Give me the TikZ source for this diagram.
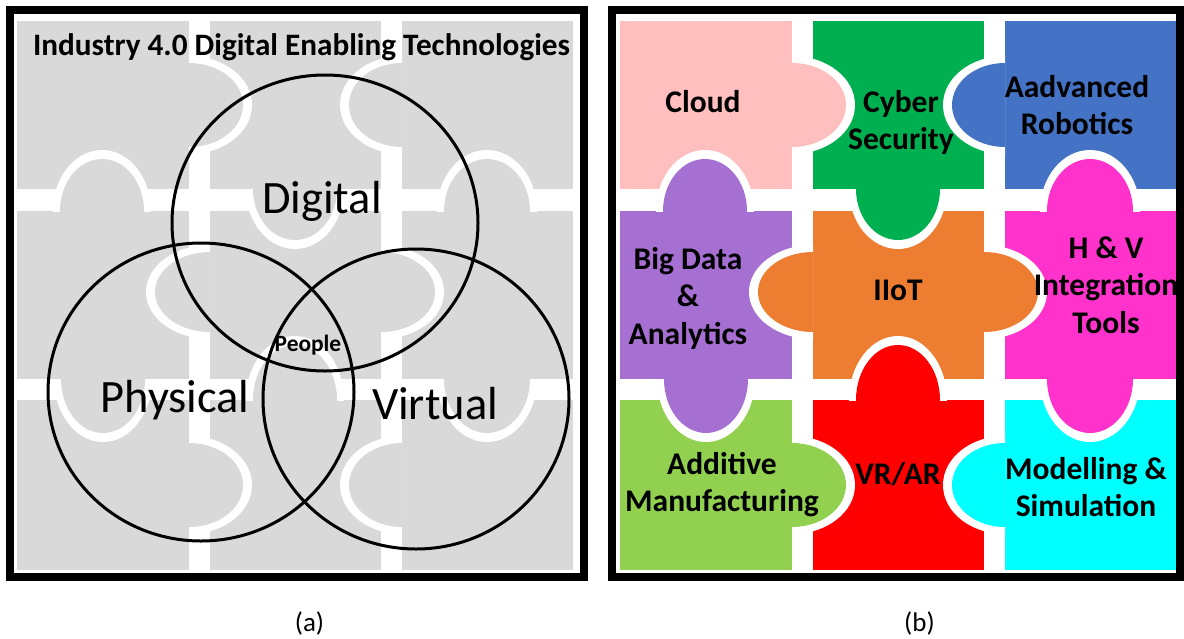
\documentclass[tikz,border=0pt]{standalone}
\usepackage{fontspec}
\setmainfont{Carlito}
\definecolor{cPink}{HTML}{FFBFBF}
\definecolor{cGreen}{HTML}{00B050}
\definecolor{cBlue}{HTML}{4472C4}
\definecolor{cPurple}{HTML}{A66FD2}
\definecolor{cOrange}{HTML}{ED7D31}
\definecolor{cMagenta}{HTML}{FF33CC}
\definecolor{cLime}{HTML}{92D050}
\definecolor{cRed}{HTML}{FF0000}
\definecolor{cCyan}{HTML}{00FFFF}
\definecolor{cGray}{HTML}{D9D9D9}
\newcommand\pzR[5]{\begin{scope}\clip (#1,#2-80) rectangle (#1+80,#2+80);
 \fill[white] (#1,#2) ellipse[x radius={(#3+9)*0.5pt}, y radius={(#4+7)*0.5pt}];
 \fill[#5] (#1,#2) ellipse[x radius={#3*0.5pt}, y radius={#4*0.5pt}];\end{scope}}
\newcommand\pzL[5]{\begin{scope}\clip (#1,#2-80) rectangle (#1-80,#2+80);
 \fill[white] (#1,#2) ellipse[x radius={(#3+9)*0.5pt}, y radius={(#4+7)*0.5pt}];
 \fill[#5] (#1,#2) ellipse[x radius={#3*0.5pt}, y radius={#4*0.5pt}];\end{scope}}
\newcommand\pzD[5]{\begin{scope}\clip (#1-80,#2) rectangle (#1+80,#2+80);
 \fill[white] (#1,#2) ellipse[y radius={(#3+9)*0.5pt}, x radius={(#4+7)*0.5pt}];
 \fill[#5] (#1,#2) ellipse[y radius={#3*0.5pt}, x radius={#4*0.5pt}];\end{scope}}
\newcommand\pzU[5]{\begin{scope}\clip (#1-80,#2) rectangle (#1+80,#2-80);
 \fill[white] (#1,#2) ellipse[y radius={(#3+9)*0.5pt}, x radius={(#4+7)*0.5pt}];
 \fill[#5] (#1,#2) ellipse[y radius={#3*0.5pt}, x radius={#4*0.5pt}];\end{scope}}
\newcommand\puzzle[9]{%
 \fill[#1] (620,21) rectangle (792,189);
 \fill[#2] (813,21) rectangle (984,189);
 \fill[#3] (1005,21) rectangle (1176,189);
 \fill[#4] (620,211) rectangle (792,379);
 \fill[#5] (813,211) rectangle (984,379);
 \fill[#6] (1005,211) rectangle (1176,379);
 \fill[#7] (620,400) rectangle (792,570);
 \fill[#8] (813,400) rectangle (984,570);
 \fill[#9] (1005,400) rectangle (1176,570);
 \pzR{792}{105}{54}{42}{#1}
 \pzL{1005}{105}{53}{42}{#3}
 \pzD{898}{189}{51}{42}{#2}
 \pzU{705}{211}{52}{42}{#4}
 \pzD{706}{379}{54}{42}{#4}
 \pzU{1090}{211}{52}{43}{#6}
 \pzD{1090}{379}{54}{43}{#6}
 \pzL{813}{292}{55}{40}{#5}
 \pzR{984}{292}{54}{40}{#5}
 \pzU{898}{400}{55}{42}{#8}
 \pzR{792}{485}{54}{42}{#7}
 \pzL{1005}{485}{53}{42}{#9}
}
\begin{document}
\begin{tikzpicture}[x=0.5pt,y=-0.5pt,
  frame/.style={draw=black,line width=4pt},
  venn/.style={draw=black,line width=1.5pt},
  tech/.style={font=\bfseries\fontsize{15.75}{18.9}\selectfont,anchor=base,inner sep=0pt},
  big/.style={font=\fontsize{23.2}{26}\selectfont,anchor=base,inner sep=0pt},
  caption/.style={font=\fontsize{13.5}{15}\selectfont,inner sep=0pt}]
\useasboundingbox (0,0) rectangle (1184,638);
\fill[white] (0,0) rectangle (1184,638);
% left panel: gray puzzle
\begin{scope}[xshift=-301.5pt]
\puzzle{cGray}{cGray}{cGray}{cGray}{cGray}{cGray}{cGray}{cGray}{cGray}
\end{scope}
% right panel: coloured puzzle
\puzzle{cPink}{cGreen}{cBlue}{cPurple}{cOrange}{cMagenta}{cLime}{cRed}{cCyan}
% frames
\draw[frame] (10,10) rectangle (584,577);
\draw[frame] (612,10) rectangle (1180,577);
% Venn
\draw[venn] (325,223) ellipse[x radius=76.5pt, y radius=74pt];
\draw[venn] (201,392) ellipse[x radius=76.5pt, y radius=74.5pt];
\draw[venn] (416,399) ellipse[x radius=76.5pt, y radius=75pt];
\node[font=\bfseries\fontsize{15.6}{18}\selectfont,anchor=base,inner sep=0pt] (title) at (301.5,55) {Industry 4.0 Digital Enabling Technologies};
\node[big] (digital) at (322,213) {Digital};
\node[big] (physical) at (175,412) {Physical};
\node[big] (virtual) at (435,419) {Virtual};
\node[font=\bfseries\fontsize{11.7}{13}\selectfont,anchor=base,inner sep=0pt] (people) at (308,351) {People};
% right labels
\node[tech] (cloud) at (703,112) {Cloud};
\node[tech] (cyber) at (901,112) {\begin{tabular}[t]{@{}c@{}}Cyber\\Security\end{tabular}};
\node[tech] (robotics) at (1077,97) {\begin{tabular}[t]{@{}c@{}}Aadvanced\\Robotics\end{tabular}};
\node[tech] (bigdata) at (688,269) {\begin{tabular}[t]{@{}c@{}}Big Data\\\&\\Analytics\end{tabular}};
\node[tech] (iiot) at (898,300) {IIoT};
\node[tech] (hv) at (1106,258) {\begin{tabular}[t]{@{}c@{}}H \& V\\Integration\\Tools\end{tabular}};
\node[tech] (additive) at (722,474) {\begin{tabular}[t]{@{}c@{}}Additive\\Manufacturing\end{tabular}};
\node[tech] (vrar) at (898,484) {VR/AR};
\node[tech] (modelling) at (1086,479) {\begin{tabular}[t]{@{}c@{}}Modelling \&\\Simulation\end{tabular}};
\node[caption] (capa) at (309.5,623) {(a)};
\node[caption] (capb) at (919.5,623) {(b)};
\end{tikzpicture}
\end{document}
